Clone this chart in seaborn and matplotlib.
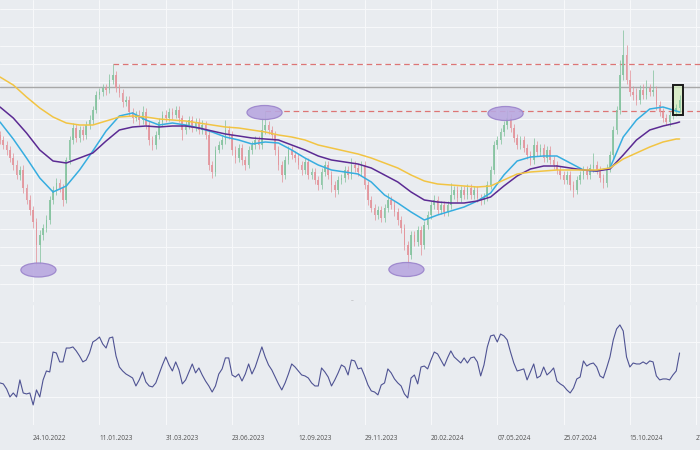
import numpy as np
import pandas as pd
import matplotlib
matplotlib.use("Agg")
import matplotlib.pyplot as plt
import seaborn as sns
from matplotlib.patches import Ellipse, Rectangle

# ---------------- data (price units, bar index on x) ----------------
first_open = 165
close = [160,155,150,142,135,125,130,112,100,90,
         78,55,65,72,80,100,110,117,112,100,
         140,160,172,162,170,165,175,180,190,205,
         208,212,210,220,225,212,207,198,200,188,
         182,185,180,188,175,160,155,165,178,185,
         182,188,185,190,182,170,175,180,172,178,
         170,175,165,135,128,150,155,160,170,165,
         150,142,152,140,135,150,155,160,155,170,
         175,170,165,150,135,125,140,150,145,142,
         135,130,138,125,128,120,115,128,135,125,
         115,110,120,122,130,125,135,132,128,135,
         115,100,92,85,90,82,92,100,95,88,
         80,72,55,45,65,58,70,55,75,85,
         95,100,90,95,88,95,105,110,102,110,
         105,112,105,110,102,100,103,115,130,155,
         160,168,175,182,172,162,155,160,152,145,
         140,155,148,152,142,150,140,135,130,125,
         120,125,115,110,120,125,130,125,132,135,
         130,122,117,132,145,170,190,225,245,220,
         208,205,200,210,205,212,208,210,195,188,
         182,178,185,188,192,200]
high = [169,164,159,154,147,140,134,135,116,105,
        94,82,70,76,85,104,114,122,121,116,
        143,164,177,176,174,174,179,185,194,209,
        212,216,216,226,236,229,216,211,204,204,
        192,189,190,194,192,179,164,169,182,189,
        190,192,192,194,194,185,179,184,184,182,
        182,180,179,169,139,154,159,164,180,174,
        169,154,156,156,144,154,159,164,164,182,
        189,179,174,169,154,139,144,154,154,149,
        146,139,142,142,132,132,124,132,139,139,
        129,119,124,126,134,134,142,139,136,139,
        139,119,104,96,94,94,96,107,104,99,
        92,84,76,59,69,69,74,74,79,89,
        99,105,104,99,99,99,117,114,114,114,
        114,116,116,114,114,106,107,119,134,159,
        164,172,179,190,186,176,166,164,164,156,
        149,162,159,156,156,154,154,144,139,134,
        129,129,129,119,124,129,134,134,136,147,
        139,134,126,136,149,174,194,240,270,255,
        230,214,212,215,216,220,216,230,214,199,
        192,186,189,192,196,205]
low = [156,151,145,138,130,121,120,107,96,85,
       72,35,36,60,68,76,96,105,108,94,
       97,136,156,158,158,160,161,171,176,187,
       201,204,205,207,216,208,203,193,194,184,
       177,179,175,176,171,155,150,151,161,174,
       178,179,181,182,178,160,166,171,168,169,
       166,166,161,130,122,124,147,151,156,161,
       145,137,138,135,130,132,146,151,151,151,
       166,166,161,145,130,118,121,136,141,138,
       131,125,126,121,121,116,110,111,124,121,
       108,103,106,116,118,121,121,128,124,124,
       111,95,88,80,81,78,78,88,91,84,
       75,67,50,32,41,54,54,45,51,71,
       81,91,86,86,84,84,91,101,98,98,
       101,101,101,101,98,95,96,99,111,126,
       151,156,164,171,168,158,151,151,148,141,
       135,136,144,144,138,138,136,131,126,121,
       116,116,110,103,106,116,121,121,121,128,
       126,118,112,113,128,141,166,186,220,216,
       204,200,195,196,201,201,204,204,190,184,
       178,175,174,181,184,188]

# moving averages sampled every 4 bars (last point = last bar)
ma_fast = [178,161,142,122,108,114,130,149,169,184,
           187,180,175,177,175,172,168,163,160,156,
           158,157,150,142,135,130,128,126,118,105,
           97,88,80,85,89,93,99,107,125,139,
           143,144,144,137,130,129,132,163,180,191,
           193,189,188]
ma_mid = [193,182,167,150,139,137,142,147,159,170,
          173,174,173,174,174,172,169,166,164,162,
          161,160,155,150,144,140,138,136,132,125,
          118,108,100,98,97,97,99,103,114,124,
          131,134,134,132,130,129,131,145,160,170,
          174,177,178]
ma_slow = [223,215,203,192,183,177,175,175,179,183,
           184,183,181,180,179,177,175,173,172,170,
           168,165,163,160,155,152,149,146,142,137,
           132,125,119,116,115,114,113,114,120,126,
           128,129,130,130,130,130,132,141,147,153,
           158,161,161]

rsi = [40.2,39.5,35.8,30.0,32.9,30.0,42.4,32.9,32.2,32.9,
       24.2,35.1,30.0,42.4,48.9,48.2,62.7,62.0,55.5,55.5,
       65.6,65.6,66.4,63.5,59.8,55.5,56.9,62.0,70.0,71.5,
       73.6,68.5,65.6,72.9,73.6,59.8,51.8,48.9,46.7,45.3,
       43.8,38.0,42.4,48.2,40.9,38.0,37.3,40.2,46.7,53.3,
       59.1,53.3,48.9,55.5,49.6,39.5,42.4,48.2,54.0,47.5,
       51.1,46.0,41.6,38.0,33.6,38.0,46.7,50.4,58.4,58.4,
       46.0,44.5,46.7,41.6,46.7,54.0,46.7,51.8,59.1,66.4,
       59.1,53.3,49.6,44.5,39.5,35.1,40.2,46.7,54.0,51.8,
       48.9,46.0,45.3,43.8,40.2,38.0,38.0,51.1,48.2,44.5,
       38.0,42.4,47.5,53.3,51.8,46.0,56.9,56.2,50.4,51.1,
       45.3,38.7,34.4,33.6,31.5,38.7,40.2,50.4,47.5,43.1,
       40.2,38.0,32.2,29.3,43.8,46.0,39.5,51.8,52.5,50.4,
       56.9,62.7,61.3,56.9,52.5,58.4,63.5,59.1,56.9,54.7,
       58.4,54.7,58.4,59.1,55.5,45.3,53.3,66.4,74.4,75.1,
       70.0,75.8,74.4,71.5,62.7,54.7,48.9,49.6,50.4,42.4,
       48.2,54.0,43.8,45.3,51.8,46.0,48.2,51.1,41.6,39.5,
       38.0,35.1,32.9,36.5,43.1,44.5,56.2,52.5,54.0,54.7,
       51.8,45.3,43.8,51.1,59.1,71.5,79.5,82.4,78.0,59.1,
       51.8,54.7,54.0,54.0,55.5,54.0,56.2,55.5,45.3,42.4,
       43.1,43.1,42.4,46.0,48.9,62.0]

tick_labels = ["24.10.2022", "11.01.2023", "31.03.2023", "23.06.2023",
               "12.09.2023", "29.11.2023", "20.02.2024", "07.05.2024",
               "25.07.2024", "15.10.2024", "27.12.2024"]

resistance_hi = 236
resistance_lo = 189
pivot_level = 213
swing_points = [(11.6, 30), (79.8, 187.5), (122.6, 30.5), (152.5, 186.5)]

# ---------------- styling ----------------
BG = "#e9ecf0"
sns.set_theme(style="darkgrid", rc={
    "axes.facecolor": BG, "figure.facecolor": BG,
    "grid.color": "#f8f9fb", "grid.linewidth": 0.7,
    "axes.edgecolor": BG,
})
plt.rcParams["font.family"] = ["Open Sans", "DejaVu Sans"]

close = np.array(close, float)
high = np.array(high, float)
low = np.array(low, float)
n = len(close)
idx = np.arange(n)
open_ = np.r_[first_open, close[:-1]]

ma_idx = list(range(0, n - 1, 4)) + [n - 1]
ma_df = pd.DataFrame({
    "bar": ma_idx * 3,
    "value": ma_fast + ma_mid + ma_slow,
    "ma": ["fast"] * len(ma_idx) + ["mid"] * len(ma_idx) + ["slow"] * len(ma_idx),
})
rsi_df = pd.DataFrame({"bar": idx, "rsi": rsi})

fig = plt.figure(figsize=(7, 4.5), dpi=100)
ax = fig.add_axes([0, (450 - 302) / 450, 1, 302 / 450])
ax2 = fig.add_axes([0, (450 - 425) / 450, 1, 120 / 450], sharex=ax)

XMAX = 700 / 3.315
ticks = np.arange(10, 211, 20)

# candles
UP, DOWN = "#86c3a0", "#e3959c"
up = close >= open_
for mask, col in ((up, UP), (~up, DOWN)):
    ax.vlines(idx[mask], low[mask], high[mask], color=col, lw=0.6, alpha=0.9, zorder=2)
    ax.bar(idx[mask], np.maximum(np.abs(close[mask] - open_[mask]), 0.8),
           bottom=np.minimum(close[mask], open_[mask]), width=0.5,
           color=col, alpha=0.9, zorder=2, linewidth=0)

# level lines
ax.axhline(pivot_level, color="#a8a8a8", lw=1.0, zorder=1)
ax.hlines(resistance_hi, 34, XMAX, color="#dd7575", lw=0.9, linestyles=(0, (4.5, 3)), zorder=1)
ax.hlines(resistance_lo, 80, XMAX, color="#dd7575", lw=0.9, linestyles=(0, (4.5, 3)), zorder=1)

# moving averages
sns.lineplot(data=ma_df, x="bar", y="value", hue="ma",
             palette={"fast": "#36ade0", "mid": "#5b2a93", "slow": "#f2c443"},
             linewidth=1.1, legend=False, ax=ax, zorder=3)
for ln in ax.get_lines():
    ln.set_solid_joinstyle("round")

# swing ellipses
for (cx, cy) in swing_points:
    ax.add_patch(Ellipse((cx, cy), 10.6, 14, facecolor="#b9a8e0", edgecolor="#9a83cb",
                         lw=0.9, alpha=0.9, zorder=4))

# highlight box on last bars
ax.add_patch(Rectangle((203.0, 185), 3.0, 30, facecolor="#d5edbd", edgecolor="none",
                       alpha=0.75, zorder=1.5))
ax.add_patch(Rectangle((203.0, 185), 3.0, 30, facecolor="none", edgecolor="#1a1a1a",
                       lw=1.4, zorder=5))

ax.set_xlim(0, XMAX)
ax.set_ylim(-2, 300)
ax.set_yticks(np.arange(291, 10, -18.3))
ax.set_xticks(ticks)
ax.tick_params(axis="both", length=0, labelleft=False, labelbottom=False)
ax.set_xlabel("")
ax.set_ylabel("")

# RSI panel
sns.lineplot(data=rsi_df, x="bar", y="rsi", color="#4f5393", linewidth=0.8, ax=ax2)
ax2.set_ylim(9.6, 96.9)
ax2.set_yticks([30, 70])
ax2.set_xticks(ticks)
ax2.set_xticklabels(tick_labels, fontsize=4.7, color="#505050")
for lab in ax2.get_xticklabels():
    lab.set_ha("left")
ax2.tick_params(axis="both", length=0, labelleft=False, pad=7.5)
ax2.set_xlabel("")
ax2.set_ylabel("")
ax2.set_xlim(0, XMAX)

fig.text(352 / 700, 1 - 301 / 450, "–", fontsize=4, color="#9a9a9a", ha="center", va="center")

for a in (ax, ax2):
    for s in a.spines.values():
        s.set_visible(False)

fig.savefig("out.png", dpi=100, facecolor=BG)
